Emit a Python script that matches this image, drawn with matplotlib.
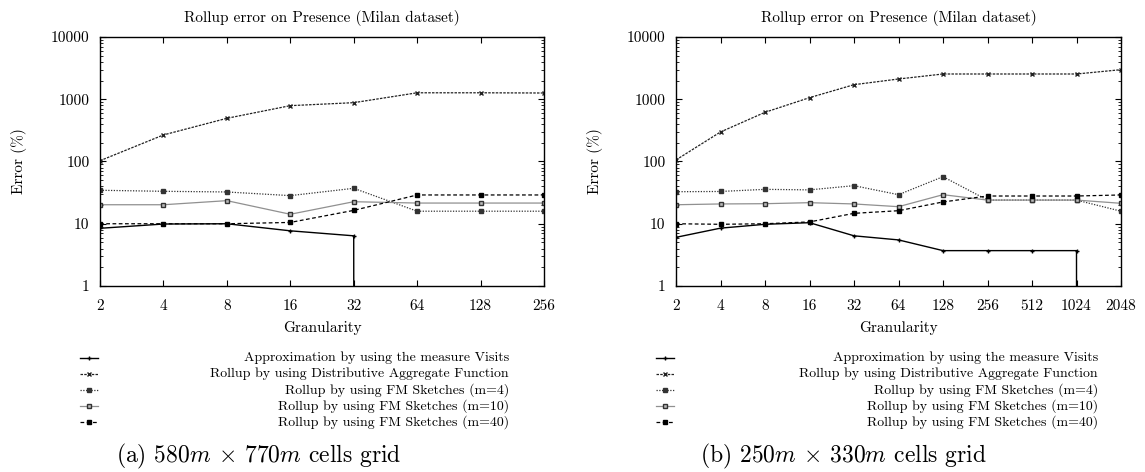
import numpy as np
import matplotlib
matplotlib.use("Agg")
import matplotlib.pyplot as plt
from matplotlib.lines import Line2D
from matplotlib.ticker import FixedLocator, FixedFormatter, LogLocator, NullFormatter

plt.rcParams["font.family"] = ["cmr10", "DejaVu Serif"]
plt.rcParams["mathtext.fontset"] = "cm"
plt.rcParams["axes.formatter.use_mathtext"] = True

# granularity (x) for each panel
gran_a = [2, 4, 8, 16, 32, 64, 128, 256]
gran_b = [2, 4, 8, 16, 32, 64, 128, 256, 512, 1024, 2048]

# panel (a): 580m x 770m cells grid  (0 = no error value, line falls off the log axis)
visits_a = [8.45, 9.9, 10.0, 7.7, 6.4, 0, np.nan, np.nan]
daf_a = [103, 267, 494, 789, 881, 1270, 1270, 1260]
fm4_a = [34.5, 33.2, 32.4, 28.3, 37.1, 15.9, 15.9, 15.9]
fm10_a = [20.2, 20.2, 23.5, 14.2, 22.6, 21.5, 21.5, 21.5]
fm40_a = [10.0, 10.0, 10.0, 10.5, 16.4, 29.0, 29.0, 29.0]

# panel (b): 250m x 330m cells grid
visits_b = [6.05, 8.5, 9.8, 10.4, 6.4, 5.5, 3.7, 3.7, 3.7, 3.7, 0]
daf_b = [106, 298, 617, 1060, 1714, 2115, 2545, 2545, 2545, 2545, 2985]
fm4_b = [32.7, 33.0, 35.7, 35.0, 40.9, 29.3, 57.0, 24.0, 24.0, 24.0, 15.9]
fm10_b = [20.2, 20.8, 21.0, 21.8, 20.8, 18.8, 29.3, 24.0, 24.0, 24.0, 21.3]
fm40_b = [10.0, 9.8, 10.0, 10.7, 14.7, 16.2, 22.4, 27.9, 27.9, 27.9, 29.0]

labels = [
    "Approximation by using the measure Visits",
    "Rollup by using Distributive Aggregate Function",
    "Rollup by using FM Sketches (m=4)",
    "Rollup by using FM Sketches (m=10)",
    "Rollup by using FM Sketches (m=40)",
]
styles = [
    dict(color="black", linestyle="-", marker="+", markersize=3, lw=1.0),
    dict(color="#222222", linestyle=(0, (2, 1)), marker="x", markersize=2.5, lw=0.9),
    dict(color="#333333", linestyle=(0, (1, 1.2)), marker="s", markersize=2.2, lw=0.9),
    dict(color="#909090", linestyle="-", marker="s", markersize=3, lw=0.9,
         markerfacecolor="#bbbbbb", markeredgecolor="#333333"),
    dict(color="black", linestyle=(0, (3, 2)), marker="s", markersize=2.5, lw=0.9),
]
title = "Rollup error on Presence (Milan dataset)"
captions = [r"(a) 580$m$ $\times$ 770$m$ cells grid",
            r"(b) 250$m$ $\times$ 330$m$ cells grid"]

fig = plt.figure(figsize=(11.45, 4.72), dpi=100)
W, H = 1145, 472

panels = [
    (gran_a, [visits_a, daf_a, fm4_a, fm10_a, fm40_a], (100, 544)),
    (gran_b, [visits_b, daf_b, fm4_b, fm10_b, fm40_b], (676, 1121)),
]

for i, (gran, series, (x0, x1)) in enumerate(panels):
    ax = fig.add_axes([x0 / W, (H - 286) / H, (x1 - x0) / W, (286 - 37) / H])
    for vals, st in zip(series, styles):
        ax.plot(gran, vals, **st)
    ax.set_xscale("log", base=2)
    ax.set_yscale("log")
    ax.set_xlim(gran[0], gran[-1])
    ax.set_ylim(1, 10000)
    ax.xaxis.set_major_locator(FixedLocator(gran))
    ax.xaxis.set_major_formatter(FixedFormatter([str(g) for g in gran]))
    ax.xaxis.set_minor_locator(FixedLocator([]))
    ax.yaxis.set_major_locator(FixedLocator([1, 10, 100, 1000, 10000]))
    ax.yaxis.set_major_formatter(FixedFormatter(["1", "10", "100", "1000", "10000"]))
    ax.yaxis.set_minor_locator(LogLocator(base=10, subs=np.arange(2, 10)))
    ax.yaxis.set_minor_formatter(NullFormatter())
    ax.tick_params(which="both", direction="in", top=True, right=True, labelsize=11)
    ax.tick_params(axis="x", pad=9.5)
    ax.tick_params(axis="y", pad=7.5)
    ax.tick_params(which="major", length=4, width=0.8)
    ax.tick_params(which="minor", length=2, width=0.6)
    for s in ax.spines.values():
        s.set_linewidth(1.0)
    ax.set_title(title, fontsize=11, pad=11)
    ax.set_xlabel("Granularity", fontsize=11, labelpad=6)
    ax.set_ylabel("Error (%)", fontsize=11, labelpad=17)

    # key below the plot: sample on the left, text right-justified
    lx0 = (x0 - 20) / W
    lx1 = (x0 - 2) / W
    tx = (x1 - 35 if i == 0 else x1 - 23) / W
    for k, (lab, st) in enumerate(zip(labels, styles)):
        yy = 1 - (358 + 16 * k) / H
        fig.add_artist(Line2D([lx0, (lx0 + lx1) / 2, lx1], [yy, yy, yy],
                              transform=fig.transFigure, markevery=[1], **st))
        fig.text(tx, yy, lab, ha="right", va="center", fontsize=10)

    cx = (259 if i == 0 else 843) / W
    fig.text(cx, 1 - 456 / H, captions[i], ha="center", va="center", fontsize=17)

fig.savefig("out.png", dpi=100)
